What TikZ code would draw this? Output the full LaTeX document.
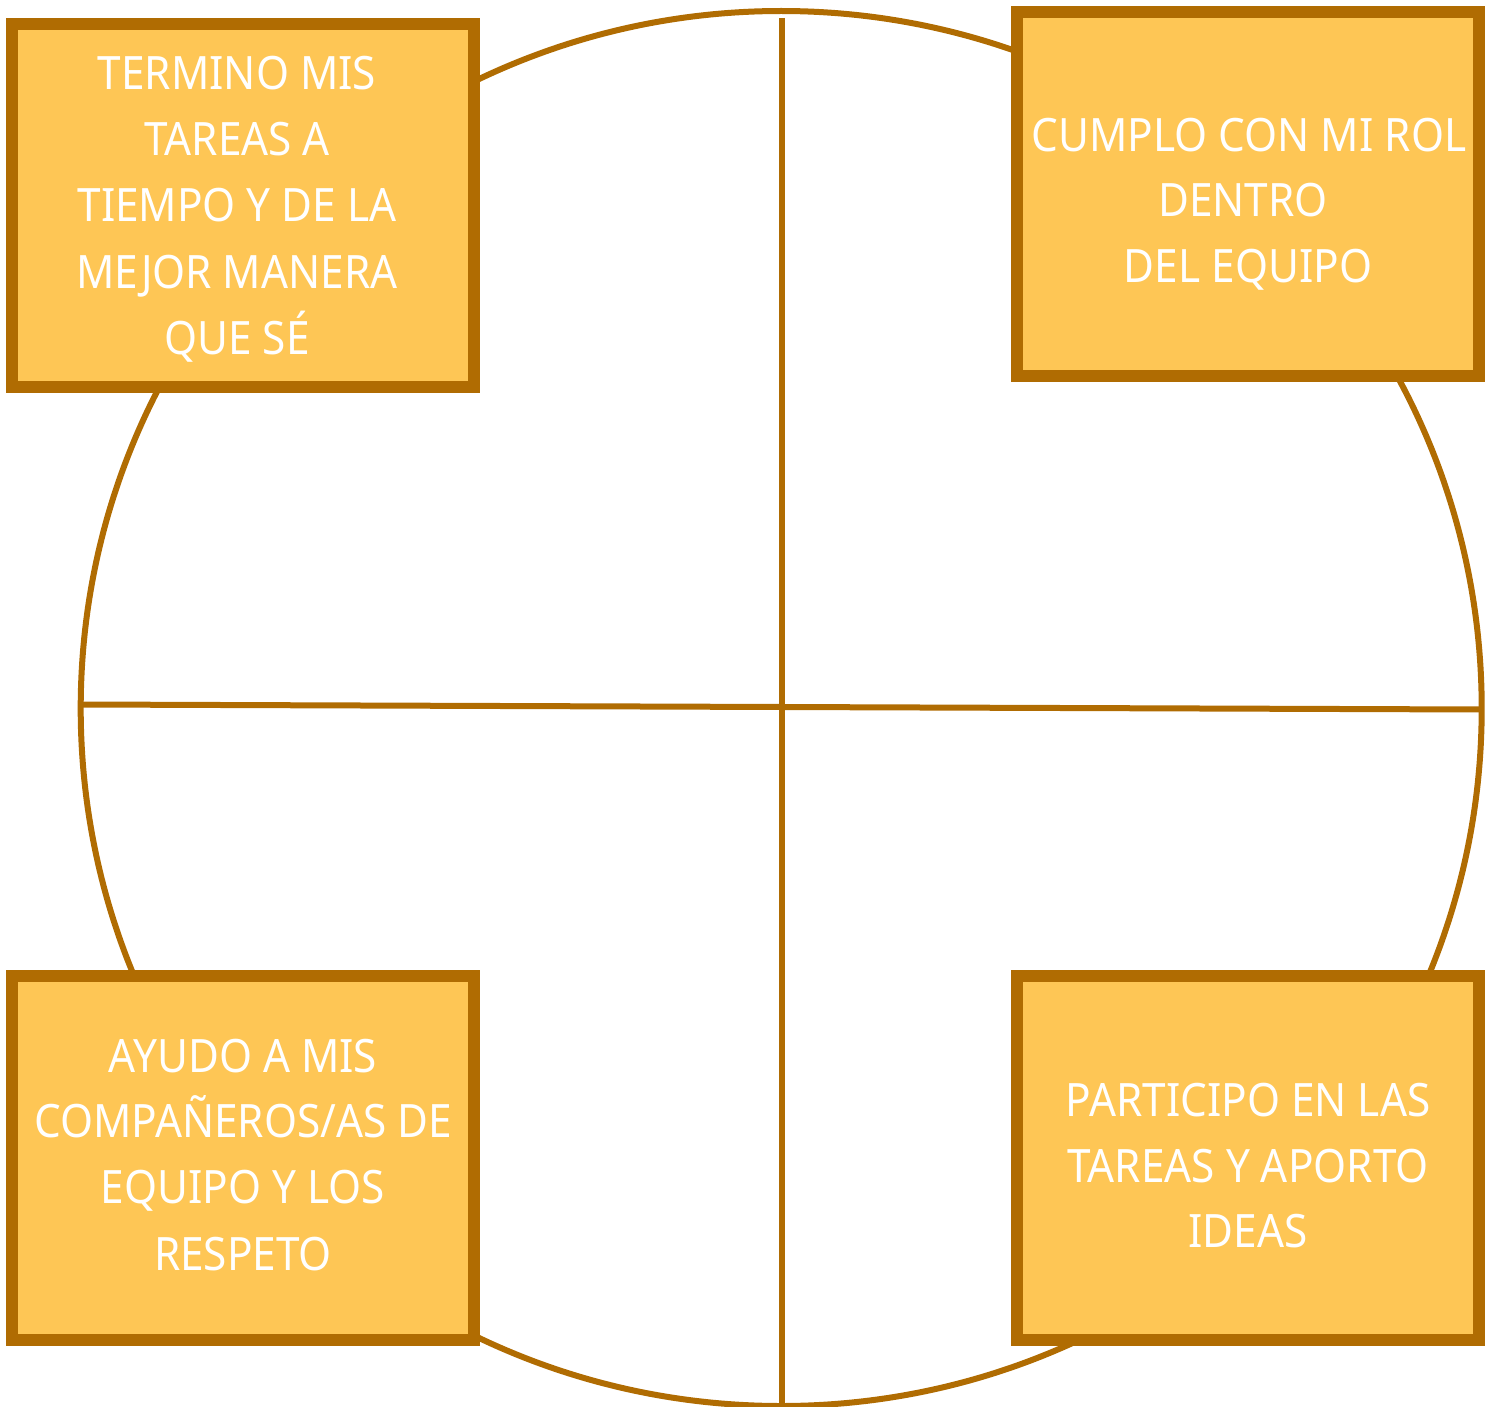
\documentclass[tikz,border=0pt]{standalone}
\usepackage{fontspec}
\setmainfont{Noto Sans}[FakeStretch=0.92]
\usetikzlibrary{shapes.geometric}
\definecolor{rim}{HTML}{B06C02}
\definecolor{boxfill}{HTML}{FEC655}
\tikzset{
  rimline/.style={draw=rim, line width=6pt},
  cardbox/.style={rectangle, draw=rim, fill=boxfill, line width=12pt,
    minimum width=462pt, minimum height=364pt, inner sep=0pt},
  txt/.style={anchor=base, text=white, inner sep=0pt,
    font=\fontsize{46}{66}\selectfont}
}
\begin{document}
\begin{tikzpicture}[x=1pt, y=-1pt]
\useasboundingbox (0,0) rectangle (1494,1407);
% wheel
\node[ellipse, rimline, minimum width=1401pt, minimum height=1395pt, inner sep=0pt] (wheel) at (781.2,708.5) {};
\coordinate (vt) at (781.7,18);
\coordinate (vb) at (781.7,1410);
\coordinate (hl) at (82,704.5);
\coordinate (hr) at (1481,709.5);
\draw[rimline] (vt) -- (vb);
\draw[rimline] (hl) -- (hr);
% boxes
\node[cardbox, minimum height=363pt] (tl) at (243,205.5) {};
\node[cardbox] (tr) at (1248,194) {};
\node[cardbox] (bl) at (243,1158) {};
\node[cardbox] (br) at (1248,1158) {};
% texts
\node[txt] (tl1) at (237,90) {TERMINO MIS};
\node[txt] (tl2) at (237,156) {TAREAS A};
\node[txt] (tl3) at (237,222) {TIEMPO Y DE LA};
\node[txt] (tl4) at (237,288) {MEJOR MANERA};
\node[txt] (tl5) at (237,354) {QUE SÉ};
\node[txt] (tr1) at (1249,152) {CUMPLO CON MI ROL};
\node[txt] (tr2) at (1243,217) {DENTRO};
\node[txt] (tr3) at (1248,283) {DEL EQUIPO};
\node[txt] (bl1) at (243,1072) {AYUDO A MIS};
\node[txt] (bl2) at (243,1137) {COMPAÑEROS/AS DE};
\node[txt] (bl3) at (243,1203) {EQUIPO Y LOS};
\node[txt] (bl4) at (243,1270) {RESPETO};
\node[txt] (br1) at (1248,1116) {PARTICIPO EN LAS};
\node[txt] (br2) at (1248,1182) {TAREAS Y APORTO};
\node[txt] (br3) at (1248,1247) {IDEAS};
\end{tikzpicture}
\end{document}
